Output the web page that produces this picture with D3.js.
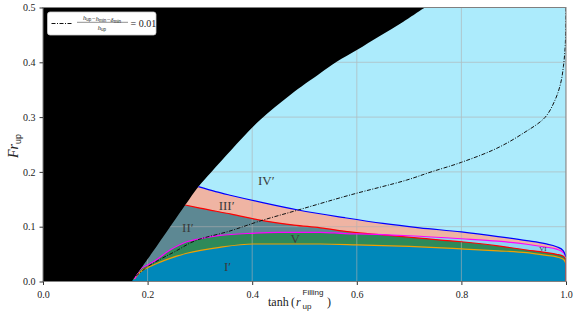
<!DOCTYPE html>
<html><head><meta charset="utf-8">
<script src="https://cdn.jsdelivr.net/npm/d3@7"></script>
<style>body{margin:0;background:#fff}svg{display:block}</style>
</head><body>
<svg id="c" width="577" height="319"></svg>
<script>
// ---- data ----
const xTicks = [0.0, 0.2, 0.4, 0.6, 0.8, 1.0];
const yTicks = [0.0, 0.1, 0.2, 0.3, 0.4, 0.5];

// black (forbidden) region boundary
const bndT = [0.170, 0.220, 0.272, 0.297, 0.322, 0.360, 0.415, 0.472, 0.530, 0.5615, 0.600, 0.644, 0.689, 0.730];
const bndF = [0.000, 0.068, 0.1396, 0.173, 0.200, 0.240, 0.2947, 0.340, 0.380, 0.401, 0.4224, 0.448, 0.474, 0.500];

// blue line (top of III')
const blueT = [0.297, 0.330, 0.360, 0.420, 0.488, 0.577, 0.650, 0.720, 0.800, 0.870, 0.925, 0.960, 0.982, 0.995, 1.000];
const blueF = [0.173, 0.164, 0.157, 0.144, 0.1305, 0.1164, 0.106, 0.098, 0.0905, 0.082, 0.0745, 0.069, 0.0635, 0.056, 0.045];

// red line (top of II')
const redT = [0.272, 0.300, 0.360, 0.415, 0.480, 0.530, 0.587, 0.650, 0.720, 0.800, 0.870, 0.925, 0.960, 0.982, 0.995, 1.000, 1.000];
const redF = [0.1396, 0.134, 0.123, 0.112, 0.103, 0.098, 0.0905, 0.085, 0.079, 0.0725, 0.065, 0.0575, 0.053, 0.0496, 0.046, 0.040, 0.000];

// magenta line (top of V)
const magT = [0.176, 0.185, 0.200, 0.211, 0.243, 0.275, 0.300, 0.338, 0.400, 0.450, 0.530, 0.577, 0.620, 0.700, 0.800, 0.870, 0.925, 0.960, 0.982, 0.995, 1.000];
const magF = [0.006, 0.021, 0.030, 0.036, 0.0575, 0.0726, 0.078, 0.084, 0.088, 0.0895, 0.0898, 0.0875, 0.0865, 0.0835, 0.078, 0.0735, 0.068, 0.063, 0.059, 0.053, 0.045];

// orange line (top of I')
const oraT = [0.175, 0.185, 0.211, 0.243, 0.275, 0.338, 0.402, 0.530, 0.600, 0.700, 0.800, 0.870, 0.925, 0.960, 0.982, 0.995, 1.000];
const oraF = [0.005, 0.0164, 0.030, 0.0423, 0.0515, 0.0624, 0.0684, 0.0684, 0.067, 0.064, 0.0595, 0.056, 0.0526, 0.048, 0.045, 0.0405, 0.033];

// dash-dot line (h_up - h_min - delta_min)/h_up = 0.01
const ddT = [0.178, 0.200, 0.225, 0.252, 0.290, 0.3576, 0.415, 0.488, 0.587, 0.695, 0.740, 0.800, 0.8675, 0.918, 0.960, 0.979, 0.9898, 0.995, 0.998, 0.9994, 1.000];
const ddF = [0.010, 0.027, 0.041, 0.0544, 0.074, 0.0922, 0.1104, 0.1305, 0.1578, 0.185, 0.1993, 0.2175, 0.243, 0.2704, 0.2996, 0.331, 0.3617, 0.392, 0.4224, 0.453, 0.500];

const regionLabels = [
  {text: "IV\u2032", t: 0.427, f: 0.184, size: 13},
  {text: "III\u2032", t: 0.351, f: 0.139, size: 13},
  {text: "II\u2032", t: 0.277, f: 0.099, size: 13},
  {text: "V", t: 0.482, f: 0.079, size: 13},
  {text: "I\u2032", t: 0.353, f: 0.027, size: 13},
  {text: "VI", t: 0.956, f: 0.060, size: 7}
];

// ---- drawing ----
const svg = d3.select("#c");
const L = 43, R = 566, T = 7.5, B = 281.5;
const x = d3.scaleLinear().domain([0, 1]).range([L, R]);
const y = d3.scaleLinear().domain([0, 0.5]).range([B, T]);

const C = {
  sky: "#adebfc", salmon: "#efb4a3", slate: "#5e8893", green: "#2f8a5a",
  deep: "#0089ba", vi: "#8fd4f2"
};

const pts = (ts, fs) => ts.map((t, i) => [t, fs[i]]);
const bnd = pts(bndT, bndF);
const blue = pts(blueT, blueF), red = pts(redT, redF), mag = pts(magT, magF),
      ora = pts(oraT, oraF), dd = pts(ddT, ddF);

const lineX = d3.line().x(d => x(d[0])).y(d => y(d[1])).curve(d3.curveMonotoneX);
const lineCR = d3.line().x(d => x(d[0])).y(d => y(d[1])).curve(d3.curveCatmullRom.alpha(0.5));
const bndLine = lineCR;

function underPath(p) {
  return `M${x(0)},${y(0)}L${x(0)},${y(p[0][1])}` + lineX(p).replace(/^M/, "L") + `L${x(1)},${y(0)}Z`;
}
function curvePath(p) {
  return `M${x(0)},${y(p[0][1])}` + lineX(p).replace(/^M/, "L");
}

const defs = svg.append("defs");
defs.append("clipPath").attr("id", "plot").append("rect")
  .attr("x", L).attr("y", T).attr("width", R - L).attr("height", B - T);
defs.append("clipPath").attr("id", "right").append("path")
  .attr("d", bndLine(bnd) + `L${x(1)},${y(0.5)}L${x(1)},${y(0)}Z`);
const redMain = red.slice(0, red.length - 1);
const redArea = `M${x(0)},${y(0)}L${x(0)},${y(redMain[0][1])}` + lineX(redMain).replace(/^M/, "L") + `L${x(1)},${y(0)}Z`;
defs.append("clipPath").attr("id", "underRed").append("path").attr("d", redArea);

const g = svg.append("g").attr("clip-path", "url(#plot)");
g.append("rect").attr("x", L).attr("y", T).attr("width", R - L).attr("height", B - T).attr("fill", C.sky);

g.append("path").attr("d", underPath(blue)).attr("fill", C.salmon);
g.append("path").attr("d", underPath(mag)).attr("fill", C.vi);
g.append("path").attr("d", redArea).attr("fill", C.slate);
g.append("path").attr("d", underPath(mag)).attr("fill", C.green).attr("clip-path", "url(#underRed)");
g.append("path").attr("d", underPath(ora)).attr("fill", C.deep);

// grid
const grid = g.append("g").attr("stroke", "#b0b0b0").attr("stroke-width", 0.8).attr("opacity", 0.75);
xTicks.forEach(t => grid.append("line").attr("x1", x(t)).attr("x2", x(t)).attr("y1", T).attr("y2", B));
yTicks.forEach(f => grid.append("line").attr("x1", L).attr("x2", R).attr("y1", y(f)).attr("y2", y(f)));

// black region
g.append("path")
  .attr("d", bndLine(bnd) + `L${x(0)},${y(0.5)}L${x(0)},${y(0)}Z`)
  .attr("fill", "#000");

// boundary lines
const lg = g.append("g").attr("clip-path", "url(#right)").attr("fill", "none").attr("stroke-width", 1.2);
lg.append("path").attr("d", curvePath(ora)).attr("stroke", "#f0a000");
lg.append("path").attr("d", `M${x(0)},${y(redMain[0][1])}` + lineX(redMain).replace(/^M/, "L") + `L${x(red[red.length-1][0])},${y(red[red.length-1][1])}`).attr("stroke", "#ff0000");
lg.append("path").attr("d", curvePath(mag)).attr("stroke", "#ff00ff");
lg.append("path").attr("d", curvePath(blue)).attr("stroke", "#0000ff");

// dash-dot line
g.append("path").attr("d", lineCR(dd)).attr("fill", "none").attr("stroke", "#111")
  .attr("stroke-width", 1).attr("stroke-dasharray", "4,1.5,1,1.5");

// region labels
regionLabels.forEach(r => {
  g.append("text").attr("x", x(r.t)).attr("y", y(r.f))
    .attr("text-anchor", "middle").attr("dominant-baseline", "central")
    .attr("font-family", "Liberation Serif, DejaVu Serif, serif").attr("font-size", r.size)
    .attr("fill", "#3a3a3a").text(r.text);
});

// frame
svg.append("rect").attr("x", L).attr("y", T).attr("width", R - L).attr("height", B - T)
  .attr("fill", "none").attr("stroke", "#808080").attr("stroke-width", 1);

// axes
const serif = "Liberation Serif, DejaVu Serif, serif";
const sans = "Liberation Sans, DejaVu Sans, sans-serif";
const fmt = d3.format(".1f");
const xa = svg.append("g").attr("transform", `translate(0,${B})`)
  .call(d3.axisBottom(x).tickValues(xTicks).tickFormat(fmt).tickSize(3.5).tickSizeOuter(0));
const ya = svg.append("g").attr("transform", `translate(${L},0)`)
  .call(d3.axisLeft(y).tickValues(yTicks).tickFormat(fmt).tickSize(3.5).tickSizeOuter(0));
[xa, ya].forEach(a => {
  a.select(".domain").remove();
  a.selectAll("line").attr("stroke", "#333");
  a.selectAll("text").attr("font-family", serif).attr("font-size", 10).attr("fill", "#222");
});
xa.selectAll("text").attr("dy", "0.95em");
ya.selectAll("text").attr("dx", "-0.1em");

// x label: tanh (r_up^Filling)
const xl = svg.append("g").attr("fill", "#222");
xl.append("text").attr("x", 268).attr("y", 306).attr("font-family", serif).attr("font-size", 12).text("tanh");
xl.append("text").attr("x", 291).attr("y", 306).attr("font-family", serif).attr("font-size", 12).text("(");
xl.append("text").attr("x", 296).attr("y", 306).attr("font-family", serif).attr("font-style", "italic").attr("font-size", 12).text("r");
xl.append("text").attr("x", 302.5).attr("y", 295).attr("font-family", sans).attr("font-size", 8).text("Filling");
xl.append("text").attr("x", 302.5).attr("y", 308.5).attr("font-family", sans).attr("font-size", 8).text("up");
xl.append("text").attr("x", 327).attr("y", 306).attr("font-family", serif).attr("font-size", 12).text(")");

// y label: Fr_up
const yl = svg.append("text").attr("transform", "translate(18,146) rotate(-90)")
  .attr("text-anchor", "middle").attr("fill", "#222");
yl.append("tspan").attr("font-family", serif).attr("font-style", "italic").attr("font-size", 14).text("Fr");
yl.append("tspan").attr("font-family", sans).attr("font-size", 9).attr("dy", 3).text("up");

// legend
const lgd = svg.append("g");
lgd.append("rect").attr("x", 47.5).attr("y", 12).attr("width", 108.5).attr("height", 23)
  .attr("rx", 2.5).attr("fill", "#fff").attr("stroke", "#cccccc").attr("stroke-width", 0.8);
lgd.append("line").attr("x1", 51.5).attr("x2", 72).attr("y1", 23.5).attr("y2", 23.5)
  .attr("stroke", "#111").attr("stroke-width", 1).attr("stroke-dasharray", "4,1.5,1,1.5");
const num = lgd.append("text").attr("x", 102).attr("y", 19.5).attr("text-anchor", "middle")
  .attr("font-family", serif).attr("font-size", 6.5).attr("fill", "#222");
[["h","up"],["\u2212h","min"],["\u2212\u03b4","min"]].forEach(([a, s]) => {
  num.append("tspan").attr("font-style", "italic").text(a);
  num.append("tspan").attr("font-family", sans).attr("font-size", 4.5).attr("dy", 1.2).text(s);
  num.append("tspan").attr("dy", -1.2).text("");
});
lgd.append("line").attr("x1", 77).attr("x2", 128).attr("y1", 22.3).attr("y2", 22.3).attr("stroke", "#222").attr("stroke-width", 0.5);
const den = lgd.append("text").attr("x", 102).attr("y", 29.5).attr("text-anchor", "middle")
  .attr("font-family", serif).attr("font-size", 6.5).attr("fill", "#222");
den.append("tspan").attr("font-style", "italic").text("h");
den.append("tspan").attr("font-family", sans).attr("font-size", 4.5).attr("dy", 1.2).text("up");
lgd.append("text").attr("x", 130.5).attr("y", 26.5).attr("font-family", serif).attr("font-size", 10)
  .attr("fill", "#222").text("= 0.01");
</script>
</body></html>
